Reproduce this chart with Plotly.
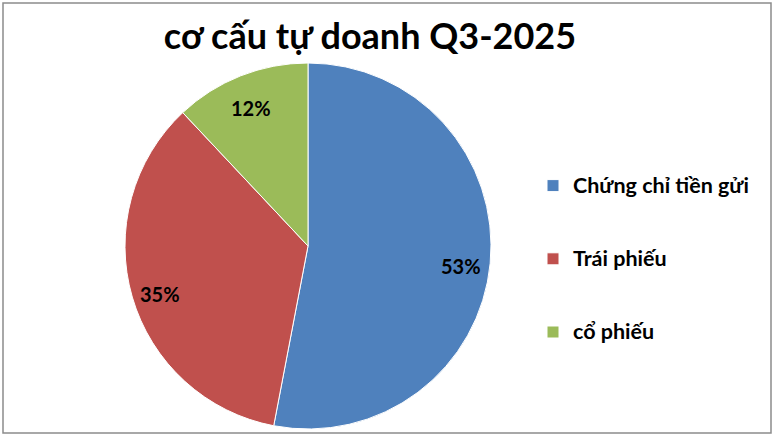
import math
import plotly.graph_objects as go

categories = ["Chứng chỉ tiền gửi", "Trái phiếu", "cổ phiếu"]
values = [53, 35, 12]
colors = ["#4F81BD", "#C0504D", "#9BBB59"]
title_text = "cơ cấu tự doanh Q3-2025"

# pie placement (paper fractions)
cx, cy, rad_x, rad_y = 308/778, 1-246/440, 183/778, 183/440
label_r = 0.84

# pad legend entries vertically to mimic the wide spacing
legend_labels = ["&nbsp;<br><span style='font-size:21.5px'>" + c + "</span><br>&nbsp;"
                 for c in categories]

fig = go.Figure(go.Pie(
    labels=legend_labels,
    values=values,
    sort=False,
    direction="clockwise",
    rotation=0,
    marker=dict(colors=colors, line=dict(color="white", width=1)),
    textinfo="none",
    hovertext=categories,
    hoverinfo="text+percent",
    domain=dict(x=[cx-rad_x, cx+rad_x], y=[cy-rad_y, cy+rad_y]),
))

# percentage labels placed near the outer part of each slice
total = sum(values)
annotations = []
cum = 0
for v in values:
    mid = (cum + v/2) / total * 2*math.pi
    cum += v
    annotations.append(dict(
        x=cx + label_r*rad_x*math.sin(mid),
        y=cy + label_r*rad_y*math.cos(mid) - 0.012,
        xref="paper", yref="paper", showarrow=False,
        xanchor="center", yanchor="middle",
        text="<b>%d%%</b>" % round(v/total*100),
        font=dict(family="Lato", size=20, color="black"),
    ))

fig.update_layout(
    width=778, height=440,
    margin=dict(l=0, r=0, t=0, b=0),
    paper_bgcolor="white",
    title=dict(text="<b>" + title_text + "</b>", x=370/778, xanchor="center",
               y=1-36/440, yanchor="middle",
               font=dict(family="Lato", size=36, color="black")),
    legend=dict(x=533/778, y=1-259/440, xanchor="left", yanchor="middle",
                font=dict(family="Lato", size=18, color="black", weight="bold"),
                valign="middle", itemwidth=30),
    showlegend=True,
    annotations=annotations,
    shapes=[dict(type="rect", xref="paper", yref="paper",
                 x0=3/778, x1=771/778, y0=1-433/440, y1=1-3/440,
                 line=dict(color="#8C8C8C", width=1.5))],
)

fig.write_html("out.html", config={"displayModeBar": False},
               post_script="document.body.style.margin='0';")
